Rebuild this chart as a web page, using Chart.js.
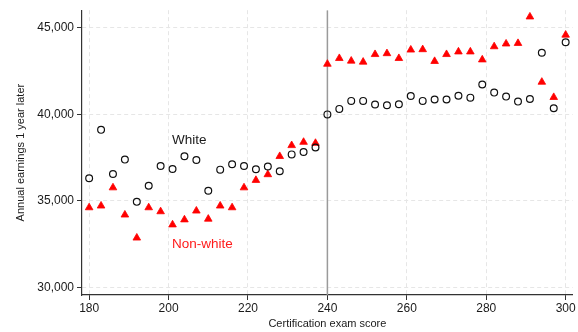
<!DOCTYPE html>
<html>
<head>
<meta charset="utf-8">
<script src="https://cdn.jsdelivr.net/npm/chart.js@4/dist/chart.umd.min.js"></script>
<style>
  html, body { margin: 0; padding: 0; background: #fff; }
  #wrap { width: 578px; height: 332px; }
</style>
</head>
<body>
<div id="wrap"><canvas id="chart" width="578" height="332"></canvas></div>
<script>
// exam scores (every 3 points)
const scores = [180, 183, 186, 189, 192, 195, 198, 201, 204, 207, 210, 213, 216, 219,
                222, 225, 228, 231, 234, 237, 240, 243, 246, 249, 252, 255, 258, 261,
                264, 267, 270, 273, 276, 279, 282, 285, 288, 291, 294, 297, 300];

const whiteEarnings = [36300, 39100, 36550, 37380, 34940, 35870, 37010, 36840, 37570, 37360, 35580, 36800, 37110, 37010,
                       36820, 36980, 36710, 37680, 37820, 38080, 39990, 40310, 40770, 40770, 40560, 40520, 40580, 41050,
                       40770, 40850, 40850, 41070, 40960, 41720, 41250, 41020, 40730, 40880, 43550, 40350, 44160];

const nonWhiteEarnings = [34610, 34710, 35760, 34190, 32860, 34610, 34380, 33620, 33910, 34420, 33950, 34710, 34610, 35760,
                          36190, 36520, 37570, 38200, 38390, 38330, 42900, 43230, 43080, 43020, 43460, 43510, 43230, 43720,
                          43740, 43060, 43460, 43610, 43610, 43150, 43910, 44070, 44100, 45630, 41860, 40980, 44580];

const xTicks = [180, 200, 220, 240, 260, 280, 300];
const yTicks = [30000, 35000, 40000, 45000];
const cutoff = 240;

const xMin = 178.2, xMax = 301.8;
const yMin = 29560, yMax = 46010;

const font = "'Liberation Sans', Arial, sans-serif";

// series labels drawn inside the plot
const seriesLabels = {
    id: 'seriesLabels',
    afterDatasetsDraw(chart) {
        const { ctx, scales: { x, y } } = chart;
        ctx.save();
        ctx.font = '13.5px ' + font;
        ctx.textAlign = 'center';
        ctx.textBaseline = 'middle';
        ctx.fillStyle = '#1a1a1a';
        ctx.fillText('White', x.getPixelForValue(205.2), y.getPixelForValue(38480));
        ctx.fillStyle = '#ff1a1a';
        ctx.fillText('Non-white', x.getPixelForValue(208.5), y.getPixelForValue(32470));
        ctx.restore();
    }
};

new Chart(document.getElementById('chart'), {
    data: {
        datasets: [
            {
                type: 'line',
                label: 'Cutoff',
                data: [{ x: cutoff, y: yMin }, { x: cutoff, y: yMax }],
                borderColor: '#9a9a9a',
                borderWidth: 1.5,
                pointRadius: 0,
                order: 3
            },
            {
                type: 'scatter',
                label: 'Non-white',
                data: scores.map((s, i) => ({ x: s, y: nonWhiteEarnings[i] })),
                pointStyle: 'triangle',
                pointRadius: 4.4,
                backgroundColor: '#ff0000',
                borderColor: '#ff0000',
                borderWidth: 0.8,
                order: 2
            },
            {
                type: 'scatter',
                label: 'White',
                data: scores.map((s, i) => ({ x: s, y: whiteEarnings[i] })),
                pointStyle: 'circle',
                pointRadius: 3.4,
                backgroundColor: 'rgba(255,255,255,0)',
                borderColor: '#111111',
                borderWidth: 1.2,
                order: 1
            }
        ]
    },
    options: {
        responsive: false,
        animation: false,
        layout: { padding: { top: 7, right: 5, left: 14, bottom: 0 } },
        plugins: {
            legend: { display: false },
            tooltip: { enabled: false }
        },
        scales: {
            x: {
                type: 'linear',
                min: xMin,
                max: xMax,
                afterBuildTicks: (scale) => { scale.ticks = xTicks.map(v => ({ value: v })); },
                afterFit: (scale) => { scale.height = 37; },
                grid: {
                    color: '#e6e6e6',
                    tickColor: '#333333',
                    tickLength: 5,
                    lineWidth: 1
                },
                border: { color: '#333333', width: 1.2, dash: [4, 3] },
                ticks: {
                    color: '#1a1a1a',
                    font: { family: font, size: 12 },
                    padding: 1,
                    maxRotation: 0
                },
                title: {
                    display: true,
                    text: 'Certification exam score',
                    color: '#1a1a1a',
                    font: { family: font, size: 11 },
                    padding: { top: 1, bottom: 1 }
                }
            },
            y: {
                type: 'linear',
                min: yMin,
                max: yMax,
                afterBuildTicks: (scale) => { scale.ticks = yTicks.map(v => ({ value: v })); },
                afterFit: (scale) => { scale.width = 68; },
                grid: {
                    color: '#e6e6e6',
                    tickColor: '#333333',
                    tickLength: 5,
                    lineWidth: 1
                },
                border: { color: '#333333', width: 1.2, dash: [4, 3] },
                ticks: {
                    color: '#1a1a1a',
                    font: { family: font, size: 12 },
                    padding: 3,
                    callback: (v) => v.toLocaleString('en-US')
                },
                title: {
                    display: true,
                    text: 'Annual earnings 1 year later',
                    color: '#1a1a1a',
                    font: { family: font, size: 11 },
                    padding: { top: 0, bottom: 4 }
                }
            }
        }
    },
    plugins: [seriesLabels]
});
</script>
</body>
</html>
